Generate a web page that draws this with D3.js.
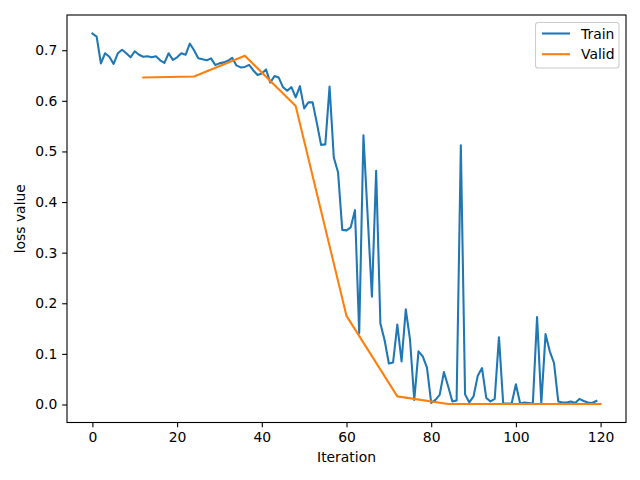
<!DOCTYPE html>
<html><head><meta charset="utf-8">
<script src="https://cdn.jsdelivr.net/npm/d3@7"></script>
<style>body{margin:0;background:#fff}svg{display:block}text{font-family:"DejaVu Sans",sans-serif;fill:#000}</style>
</head><body>
<script>
const trainIter = d3.range(0, 120);
const trainLoss = [0.733,0.727,0.674,0.694,0.687,0.673,0.694,0.701,0.694,0.686,
0.698,0.691,0.687,0.688,0.686,0.688,0.680,0.675,0.694,0.681,
0.686,0.694,0.691,0.713,0.700,0.684,0.682,0.680,0.684,0.671,
0.674,0.676,0.679,0.685,0.670,0.666,0.667,0.671,0.660,0.651,
0.654,0.662,0.636,0.649,0.646,0.627,0.620,0.627,0.607,0.629,
0.585,0.597,0.597,0.556,0.513,0.514,0.628,0.488,0.459,0.345,
0.344,0.350,0.384,0.141,0.532,0.372,0.213,0.462,0.160,0.127,
0.081,0.083,0.158,0.085,0.188,0.128,0.009,0.105,0.095,0.073,
0.003,0.009,0.019,0.064,0.036,0.006,0.008,0.512,0.020,0.004,
0.016,0.057,0.072,0.013,0.006,0.011,0.133,0.002,0.002,0.002,
0.040,0.002,0.004,0.003,0.002,0.173,0.002,0.139,0.105,0.082,
0.006,0.004,0.004,0.006,0.003,0.011,0.007,0.004,0.003,0.007];
const validIter = [12,24,36,48,60,72,84,96,108,120];
const validLoss = [0.646,0.648,0.689,0.590,0.175,0.016,0.001,0.001,0.001,0.001];
const xTicks = [0,20,40,60,80,100,120];
const yTicks = [0,0.1,0.2,0.3,0.4,0.5,0.6,0.7];
const seriesNames = ["Train","Valid"];
const colors = ["#1f77b4","#ff7f0e"];

const W=640,H=480, L=67, R=626, T=15, B=422.5;
const svg = d3.select("body").append("svg").attr("width",W).attr("height",H);

const xAll = trainIter.concat(validIter), yAll = trainLoss.concat(validLoss);
const [x0,x1] = d3.extent(xAll), [y0,y1] = d3.extent(yAll);
const xm=(x1-x0)*0.05, ym=(y1-y0)*0.05;
const x = d3.scaleLinear().domain([x0-xm,x1+xm]).range([L,R]);
const y = d3.scaleLinear().domain([y0-ym,y1+ym]).range([B,T]);

const fs = 13.9, tl = 4.86;
const xAxis = d3.axisBottom(x).tickValues(xTicks).tickFormat(d3.format("d")).tickSizeInner(tl).tickSizeOuter(0).tickPadding(4.86);
const yAxis = d3.axisLeft(y).tickValues(yTicks).tickFormat(d3.format(".1f")).tickSizeInner(tl).tickSizeOuter(0).tickPadding(4.86);
const gx = svg.append("g").attr("transform",`translate(0,${B})`).call(xAxis);
const gy = svg.append("g").attr("transform",`translate(${L},0)`).call(yAxis);
[gx,gy].forEach(g=>{
  g.select(".domain").remove();
  g.selectAll(".tick line").attr("stroke","#000").attr("stroke-width",1.1);
  g.selectAll(".tick text").attr("font-size",fs).attr("font-family","DejaVu Sans").attr("fill","#000");
});

const clip = svg.append("clipPath").attr("id","c").append("rect").attr("x",L).attr("y",T).attr("width",R-L).attr("height",B-T);
const line = d3.line().x(d=>x(d[0])).y(d=>y(d[1]));
const plot = svg.append("g").attr("clip-path","url(#c)");
plot.append("path").datum(trainIter.map((d,i)=>[d,trainLoss[i]])).attr("d",line)
  .attr("fill","none").attr("stroke",colors[0]).attr("stroke-width",2.08).attr("stroke-linejoin","round").attr("stroke-linecap","square");
plot.append("path").datum(validIter.map((d,i)=>[d,validLoss[i]])).attr("d",line)
  .attr("fill","none").attr("stroke",colors[1]).attr("stroke-width",2.08).attr("stroke-linejoin","round").attr("stroke-linecap","square");

svg.append("rect").attr("x",L).attr("y",T).attr("width",R-L).attr("height",B-T)
  .attr("fill","none").attr("stroke","#000").attr("stroke-width",1.1);

svg.append("text").attr("x",(L+R)/2).attr("y",462).attr("text-anchor","middle").attr("font-size",fs).text("Iteration");
svg.append("text").attr("transform",`translate(25,${(T+B)/2}) rotate(-90)`).attr("text-anchor","middle").attr("font-size",fs).text("loss value");

// legend
const lg = svg.append("g");
lg.append("rect").attr("x",535.5).attr("y",22.5).attr("width",83.5).attr("height",45.5).attr("rx",2.8)
  .attr("fill","#fff").attr("fill-opacity",0.8).attr("stroke","#cccccc").attr("stroke-width",1.1);
seriesNames.forEach((n,i)=>{
  const yy = 33.5 + i*20.7;
  lg.append("line").attr("x1",542).attr("x2",570).attr("y1",yy).attr("y2",yy).attr("stroke",colors[i]).attr("stroke-width",2.08);
  lg.append("text").attr("x",581).attr("y",yy).attr("dy","0.36em").attr("font-size",fs).text(n);
});
</script>
</body></html>
